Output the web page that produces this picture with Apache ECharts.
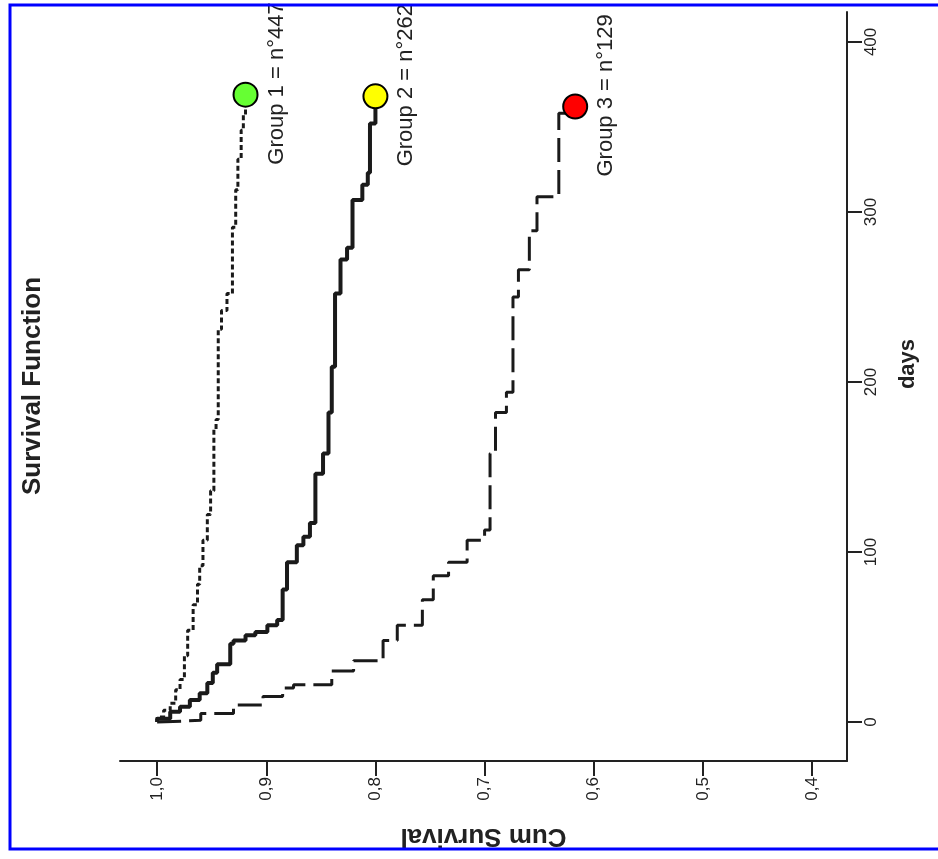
<!DOCTYPE html>
<html>
<head>
<meta charset="utf-8">
<script src="https://cdn.jsdelivr.net/npm/echarts@6/dist/echarts.min.js"></script>
<style>
  html, body { margin: 0; padding: 0; background: #fff; }
  #main { width: 938px; height: 859px; }
</style>
</head>
<body>
<div id="main"></div>
<script>
var chartDom = document.getElementById('main');
var myChart = echarts.init(chartDom);
var option;

// Kaplan-Meier steps: day of the drop and survival after it
const group1Days = [0, 3, 7, 11, 19, 25, 39, 54, 69, 81, 92, 107, 122, 136, 172, 178, 231, 242, 252, 291, 313, 331, 348, 357, 369];
const group1Surv = [1.0, 0.994, 0.988, 0.983, 0.979, 0.975, 0.972, 0.967, 0.963, 0.961, 0.958, 0.954, 0.951, 0.948, 0.946, 0.944, 0.941, 0.936, 0.931, 0.928, 0.926, 0.923, 0.921, 0.919, 0.919];

const group2Days = [0, 2, 6, 9, 13, 17, 23, 29, 34, 46, 48, 51, 53, 57, 60, 78, 94, 104, 109, 117, 146, 158, 182, 209, 252, 272, 279, 307, 316, 323, 352, 368];
const group2Surv = [1.0, 0.988, 0.979, 0.970, 0.961, 0.954, 0.949, 0.945, 0.933, 0.930, 0.919, 0.910, 0.899, 0.890, 0.885, 0.881, 0.872, 0.866, 0.860, 0.855, 0.848, 0.843, 0.840, 0.837, 0.832, 0.826, 0.821, 0.812, 0.807, 0.805, 0.800, 0.800];

const group3Days = [0, 1, 5, 10, 15, 20, 22, 30, 36, 48, 57, 72, 86, 94, 107, 113, 158, 182, 194, 250, 266, 289, 309, 358, 362];
const group3Surv = [1.0, 0.96, 0.93, 0.903, 0.885, 0.875, 0.84, 0.82, 0.793, 0.78, 0.757, 0.747, 0.733, 0.716, 0.70, 0.695, 0.690, 0.680, 0.674, 0.669, 0.659, 0.652, 0.632, 0.617, 0.617];

const groupNames = ['Group 1 = n°447', 'Group 2 = n°262', 'Group 3 = n°129'];
const groupColors = ['#66ff33', '#ffff00', '#ff0000'];

const survivalTicks = [0.4, 0.5, 0.6, 0.7, 0.8, 0.9, 1.0];
const dayTicks = [0, 100, 200, 300, 400];

const lineColor = '#1a1a1a';

function pairs(days, surv) {
  return days.map((d, i) => [surv[i], d]);
}

function lastPoint(days, surv) {
  return [surv[surv.length - 1], days[days.length - 1]];
}

const allDays = [group1Days, group2Days, group3Days];
const allSurv = [group1Surv, group2Surv, group3Surv];

const endPoints = allDays.map((d, i) => ({
  name: groupNames[i],
  value: lastPoint(d, allSurv[i]),
  itemStyle: { color: groupColors[i] }
}));

option = {
  backgroundColor: '#ffffff',
  animation: false,
  grid: {
    left: 120,
    right: 91,
    top: 12,
    bottom: 98
  },
  xAxis: {
    type: 'value',
    inverse: true,
    min: 0.368,
    max: 1.034,
    name: 'Cum Survival',
    nameLocation: 'middle',
    nameRotate: 180,
    nameGap: 62,
    nameTextStyle: {
      fontFamily: 'Liberation Sans',
      fontSize: 26,
      fontWeight: 'bold',
      color: '#222'
    },
    axisLine: { show: true, onZero: false, lineStyle: { color: '#222', width: 2 } },
    axisTick: { show: true, length: 15, lineStyle: { color: '#222', width: 2 }, customValues: survivalTicks },
    axisLabel: {
      rotate: 90,
      margin: 16,
      fontFamily: 'Liberation Sans',
      fontSize: 17,
      color: '#222',
      customValues: survivalTicks,
      formatter: v => v.toFixed(1).replace('.', ',')
    },
    splitLine: { show: false }
  },
  yAxis: {
    type: 'value',
    position: 'right',
    min: -22.9,
    max: 417.6,
    name: 'days',
    nameLocation: 'middle',
    nameRotate: 90,
    nameGap: 50,
    nameTextStyle: {
      fontFamily: 'Liberation Sans',
      fontSize: 22,
      fontWeight: 'bold',
      color: '#222',
      padding: [0, 0, 0, 45]
    },
    axisLine: { show: true, onZero: false, lineStyle: { color: '#222', width: 2 } },
    axisTick: { show: true, length: 15, lineStyle: { color: '#222', width: 2 }, customValues: dayTicks },
    axisLabel: {
      rotate: 90,
      margin: 16,
      fontFamily: 'Liberation Sans',
      fontSize: 17,
      color: '#222',
      customValues: dayTicks
    },
    splitLine: { show: false }
  },
  graphic: [
    {
      type: 'rect',
      shape: { x: 10, y: 5, width: 940, height: 844 },
      style: { fill: 'none', stroke: '#0000ff', lineWidth: 3 },
      z: 100
    },
    {
      type: 'text',
      x: 33,
      y: 386,
      rotation: Math.PI / 2,
      style: {
        text: 'Survival Function',
        fontFamily: 'Liberation Sans',
        fontSize: 26,
        fontWeight: 'bold',
        fill: '#222',
        align: 'center',
        verticalAlign: 'middle'
      }
    }
  ],
  series: [
    {
      name: 'Group 1',
      type: 'line',
      step: 'start',
      showSymbol: false,
      data: pairs(group1Days, group1Surv),
      lineStyle: { color: lineColor, width: 3, type: [5, 3] }
    },
    {
      name: 'Group 2',
      type: 'line',
      step: 'start',
      showSymbol: false,
      data: pairs(group2Days, group2Surv),
      lineStyle: { color: lineColor, width: 4, type: 'solid' }
    },
    {
      name: 'Group 3',
      type: 'line',
      step: 'start',
      showSymbol: false,
      data: pairs(group3Days, group3Surv),
      lineStyle: { color: lineColor, width: 3, type: [24, 8] }
    },
    {
      name: 'ends',
      type: 'scatter',
      symbol: 'circle',
      symbolSize: 24,
      z: 5,
      data: endPoints,
      itemStyle: { borderColor: '#000', borderWidth: 2, opacity: 1 },
      label: {
        show: true,
        formatter: p => p.name,
        position: 'right',
        rotate: 90,
        align: 'left',
        verticalAlign: 'middle',
        offset: [-70, 13],
        fontFamily: 'Liberation Sans',
        fontSize: 22,
        color: '#222'
      }
    }
  ]
};

option && myChart.setOption(option);
</script>
</body>
</html>
